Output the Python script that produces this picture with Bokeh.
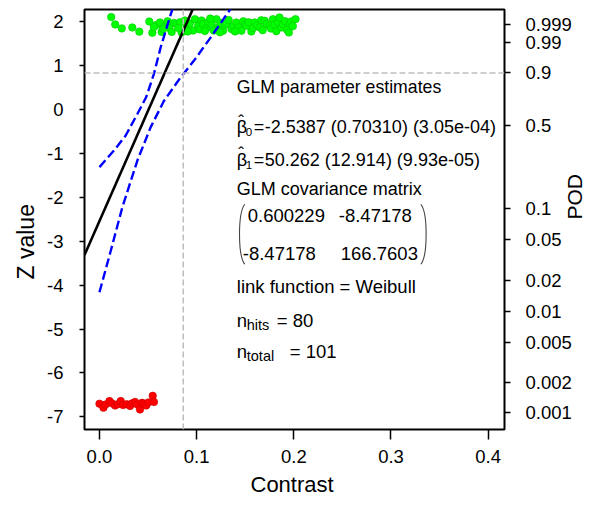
import math
from bokeh.plotting import figure
from bokeh.models import Range1d, LinearAxis, FixedTicker, Span, Label, Title
from bokeh.embed import file_html
from bokeh.resources import INLINE

# ---------------- data ----------------
hit_x = [0.0121, 0.0162, 0.0230, 0.0338, 0.0410, 0.0513, 0.0544, 0.0589, 0.0623, 0.0640,
         0.0674, 0.0718, 0.0743, 0.0766, 0.0794, 0.0828, 0.0845, 0.0896, 0.0930, 0.0964,
         0.0982, 0.1015, 0.1033, 0.1050, 0.1067, 0.1101, 0.1120, 0.1153, 0.1175, 0.1204,
         0.1225, 0.1250, 0.1272, 0.1290, 0.1307, 0.1330, 0.1358, 0.1380, 0.1409, 0.1430,
         0.1461, 0.1480, 0.1500, 0.1512, 0.1535, 0.1563, 0.1580, 0.1597, 0.1620, 0.1648,
         0.1665, 0.1680, 0.1700, 0.1720, 0.1751, 0.1765, 0.1785, 0.1800, 0.1820, 0.1838,
         0.1853, 0.1871, 0.1890, 0.1910, 0.1930, 0.1949, 0.1960, 0.1973, 0.1990, 0.2017,
         0.0560, 0.0655, 0.0700, 0.0810, 0.0880, 0.0910, 0.1085, 0.1140, 0.1240, 0.1395]
hit_z = [2.107, 1.940, 1.850, 1.870, 1.775, 2.007, 1.750, 1.930, 1.985, 1.770,
         1.900, 1.857, 1.770, 1.975, 1.948, 1.990, 1.757, 1.900, 1.961, 1.800,
         2.060, 1.909, 1.825, 2.030, 1.950, 1.857, 1.990, 1.948, 1.800, 2.060,
         1.880, 1.975, 1.795, 1.930, 1.961, 2.040, 1.834, 1.910, 1.984, 1.870,
         1.795, 2.010, 1.940, 1.909, 1.990, 1.779, 1.860, 1.984, 1.920, 1.870,
         2.035, 1.810, 2.023, 1.950, 1.909, 1.845, 2.060, 1.935, 1.785, 1.990,
         2.098, 1.870, 1.940, 2.015, 1.820, 1.757, 1.960, 2.007, 1.900, 2.060,
         1.880, 1.840, 2.010, 1.860, 2.030, 1.780, 1.790, 2.075, 1.760, 1.780]

miss_x = [0.0000, 0.0041, 0.0062, 0.0103, 0.0128, 0.0161, 0.0189, 0.0219, 0.0243, 0.0281,
          0.0315, 0.0338, 0.0366, 0.0391, 0.0417, 0.0438, 0.0458, 0.0481, 0.0503, 0.0548,
          0.0561]
miss_z = [-6.70, -6.79, -6.72, -6.64, -6.69, -6.74, -6.71, -6.64, -6.73, -6.71,
          -6.75, -6.69, -6.66, -6.72, -6.83, -6.68, -6.70, -6.74, -6.67, -6.52,
          -6.66]

upper_x = [0.0, 0.015, 0.027, 0.039, 0.048, 0.056, 0.063, 0.0739, 0.077]
upper_z = [-1.31, -0.93, -0.59, -0.10, 0.28, 0.81, 1.42, 2.21, 2.40]
lower_x = [0.0, 0.0117, 0.0236, 0.039, 0.0527, 0.0664, 0.0835, 0.0971, 0.1143, 0.1348, 0.138]
lower_z = [-4.16, -3.21, -2.22, -1.16, -0.40, 0.20, 0.733, 1.11, 1.64, 2.29, 2.40]

beta0 = -2.5387
beta1 = 50.262
a90_95 = 0.0862
pod_target = 0.9

x_ticks = [0.0, 0.1, 0.2, 0.3, 0.4]
x_labels = ["0.0", "0.1", "0.2", "0.3", "0.4"]
z_ticks = [-7, -6, -5, -4, -3, -2, -1, 0, 1, 2]
z_labels = ["-7", "-6", "-5", "-4", "-3", "-2", "-1", "0", "1", "2"]
pod_ticks = [0.001, 0.002, 0.005, 0.01, 0.02, 0.05, 0.1, 0.5, 0.9, 0.99, 0.999]
pod_labels = ["0.001", "0.002", "0.005", "0.01", "0.02", "0.05", "0.1", "0.5", "0.9", "0.99", "0.999"]

def weibull_link(p):
    return math.log(-math.log(1.0 - p))

FONT = "Liberation Sans"
X0, X1 = -0.0154, 0.4168
Y0, Y1 = -7.287, 2.28
LEFT, TOP, FW, FH = 84.0, 9.0, 422.0, 420.0

def px_x(sx):
    return X0 + (sx - LEFT) * (X1 - X0) / FW

p = figure(width=600, height=505, x_range=Range1d(X0, X1), y_range=Range1d(Y0, Y1),
           output_backend="svg", toolbar_location=None,
           min_border_left=84, min_border_right=94, min_border_top=9, min_border_bottom=76,
           x_axis_location=None, y_axis_location=None)
p.grid.visible = False
p.outline_line_color = "black"
p.outline_line_width = 2
p.background_fill_color = "white"
p.border_fill_color = "white"

def style_axis(ax, tick_out, standoff):
    ax.major_tick_out = tick_out
    ax.major_tick_in = 0
    ax.minor_tick_out = 0
    ax.minor_tick_in = 0
    ax.major_tick_line_color = "black"
    ax.major_tick_line_width = 1.5
    ax.axis_line_color = None
    ax.major_label_text_font = FONT
    ax.major_label_text_font_size = "18.5px"
    ax.major_label_text_color = "black"
    ax.major_label_standoff = standoff

xa = LinearAxis(ticker=FixedTicker(ticks=x_ticks))
xa.major_label_overrides = {t: l for t, l in zip(x_ticks, x_labels)}
style_axis(xa, 10, 10)
p.add_layout(xa, "below")

ya = LinearAxis(ticker=FixedTicker(ticks=z_ticks))
ya.major_label_overrides = {t: l for t, l in zip(z_ticks, z_labels)}
style_axis(ya, 5, 16)
p.add_layout(ya, "left")

pod_z = [round(weibull_link(v), 4) for v in pod_ticks]
ra = LinearAxis(ticker=FixedTicker(ticks=pod_z), axis_label="POD")
ra.major_label_overrides = {t: l for t, l in zip(pod_z, pod_labels)}
style_axis(ra, 6, 15)
ra.axis_label_text_font = FONT
ra.axis_label_text_font_size = "21px"
ra.axis_label_text_font_style = "normal"
ra.axis_label_text_color = "black"
ra.axis_label_standoff = 0
ra.axis_label_orientation = math.pi / 2
p.add_layout(ra, "right")

# axis titles as side titles
def side_title(text, side, offset, standoff, size):
    t = Title(text=text, align="left", offset=offset, standoff=standoff,
              text_font=FONT, text_font_size=size, text_font_style="normal",
              text_color="black")
    p.add_layout(t, side)

side_title("Contrast", "below", 166, 8, "22px")
side_title("Z value", "left", 150, 12, "23px")

# points
p.scatter(hit_x, hit_z, size=7.5, fill_color="#00FF00", line_color="#00C800", line_width=0.6)
p.scatter(miss_x, miss_z, size=7.5, fill_color="#FF0000", line_color="#C80000", line_width=0.6)

# reference lines
z90 = weibull_link(pod_target)
p.add_layout(Span(location=z90, dimension="width", line_color="#BEBEBE", line_width=1.5, line_dash="6 3"))
p.add_layout(Span(location=a90_95, dimension="height", line_color="#BEBEBE", line_width=1.5, line_dash="6 3"))

# fit line and confidence bounds
fx = [X0, X1]
p.line(fx, [beta0 + beta1 * v for v in fx], line_color="black", line_width=2.6)
p.line(upper_x, upper_z, line_color="#0000FF", line_width=2.4, line_dash="9 4")
p.line(lower_x, lower_z, line_color="#0000FF", line_width=2.4, line_dash="9 4")

# ---------------- annotation text block ----------------
TX = px_x(237)
rows = {"title": 0.505, "b0": -0.405, "b1": -1.14, "cov": -1.815, "m1": -2.41,
        "m2": -3.27, "link": -4.04, "hits": -4.80, "total": -5.51}
BASE = "18.5px"

def lab(text, row, dx=0, dy=0, size=BASE, color="black"):
    p.add_layout(Label(x=TX, y=rows[row], x_offset=dx, y_offset=dy, text=text,
                       text_align="left", text_baseline="middle", text_font=FONT,
                       text_font_size=size, text_color=color))

lab("GLM parameter estimates", "title", size="17.7px")
for r, sub, val in [("b0", "0", "-2.5387 (0.70310) (3.05e-04)"),
                    ("b1", "1", "50.262 (12.914) (9.93e-05)")]:
    lab("\u03b2", r, 0, 0, "18px")
    lab("\u02c6", r, 1.5, 6, "17px")
    lab(sub, r, 9, -5, "11.5px")
    lab("=", r, 17, 0, "18px")
    lab(val, r, 28, 0, "18px")
lab("GLM covariance matrix", "cov", size="18px")
lab("0.600229", "m1", 11)
lab("-8.47178", "m1", 102)
lab("-8.47178", "m2", 6)
lab("166.7603", "m2", 104)
lab("link function = Weibull", "link")
lab("n", "hits")
lab("hits", "hits", 10, -5, "14.5px")
lab("= 80", "hits", 40)
lab("n", "total")
lab("total", "total", 10, -5, "14.5px")
lab("= 101", "total", 53)

# matrix parentheses (screen-pixel geometry converted to data units)
dxp = (X1 - X0) / FW
dyp = (Y1 - Y0) / FH
mid = (rows["m1"] + rows["m2"]) / 2
half = 30.0 * dyp
for x_edge, bow in [(TX + 8 * dxp, -7 * dxp), (TX + 185 * dxp, 7 * dxp)]:
    p.bezier(x0=[x_edge], y0=[mid + half], x1=[x_edge], y1=[mid - half],
             cx0=[x_edge + bow], cy0=[mid + half - 9 * dyp],
             cx1=[x_edge + bow], cy1=[mid - half + 9 * dyp],
             line_color="#444444", line_width=1.1)

open("out.html", "w").write(file_html(p, INLINE))
